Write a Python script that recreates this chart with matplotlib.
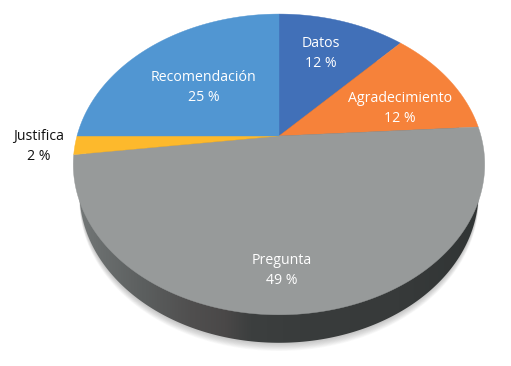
#!/usr/bin/env python3

import numpy as np
import matplotlib
matplotlib.use('Agg')
import matplotlib.pyplot as plt
from matplotlib.patches import Polygon

# clockwise from the top of the pie
labels = ['Datos', 'Agradecimiento', 'Pregunta', 'Justifica', 'Recomendación']
values = [12, 12, 49, 2, 25]
colors = ['#4170b8', '#f6823a', '#979a9a', '#fdb92c', '#5196d2']

label_pos = [(321, 53.5), (400, 108.5), (282, 270.5), (39, 146.5), (204, 87.5)]
label_col = ['white', 'white', 'white', '#111111', 'white']

# pixels: apex of the slices, tilt of the pie
CX, CY = 279, 136
A, C, K = 202, 145, 0.189
DEPTH = 28
WALL_SCALE = 0.97

side_x = [70, 100, 145, 190, 225, 250, 300, 400, 490]
side_col = ['#777b7b', '#6a6e6e', '#5b5e5e', '#504f4f', '#4a4848', '#3c3f3f', '#393c3c', '#373a3a', '#303434']


def rim(frac):
    # fraction of the pie (clockwise from top) to a pixel on the tilted rim
    t = 2*np.pi*np.asarray(frac)
    u, v = np.sin(t), np.cos(t)
    d = 1 + K*v
    return CX + A*u/d, CY - C*v/d


fig = plt.figure(figsize=(5.11, 3.66), dpi=100)
ax = fig.add_axes([0, 0, 1, 1])
ax.set_xlim(0, 511)
ax.set_ylim(366, 0)
ax.axis('off')

all_x, all_y = rim(np.linspace(0, 1, 721))
low_x = CX + (all_x - CX)*WALL_SCALE
low_y = all_y + DEPTH

# soft shadow under the pie
for i in range(10):
    ax.fill(low_x, low_y + 1 + i*0.8, color='#555555', alpha=0.035, lw=0, zorder=1)

# side wall with the horizontal gradient
cmap = matplotlib.colors.LinearSegmentedColormap.from_list(
    'side', [((x - side_x[0])/(side_x[-1] - side_x[0]), c) for x, c in zip(side_x, side_col)])
im = ax.imshow(np.linspace(0, 1, 512).reshape(1, -1), cmap=cmap, aspect='auto', zorder=2,
               extent=(side_x[0], side_x[-1], 366, 0))
side = Polygon(np.c_[low_x, low_y], closed=True, transform=ax.transData, fc='none', ec='none')
ax.add_patch(side)
im.set_clip_path(side)
ax.set_xlim(0, 511)
ax.set_ylim(366, 0)

# slices
edges = np.cumsum([0] + values)/sum(values)
for i in range(len(values)):
    x, y = rim(np.linspace(edges[i], edges[i+1], 200))
    ax.fill(np.r_[CX, x], np.r_[CY, y], color=colors[i], lw=0.3, zorder=3)

for i in range(len(labels)):
    ax.text(label_pos[i][0], label_pos[i][1], '%s\n%d %%' % (labels[i], values[i]), color=label_col[i],
            ha='center', va='center', fontsize=10.2, family='Open Sans', linespacing=1.42, zorder=4)

fig.savefig('out.png', dpi=100)
